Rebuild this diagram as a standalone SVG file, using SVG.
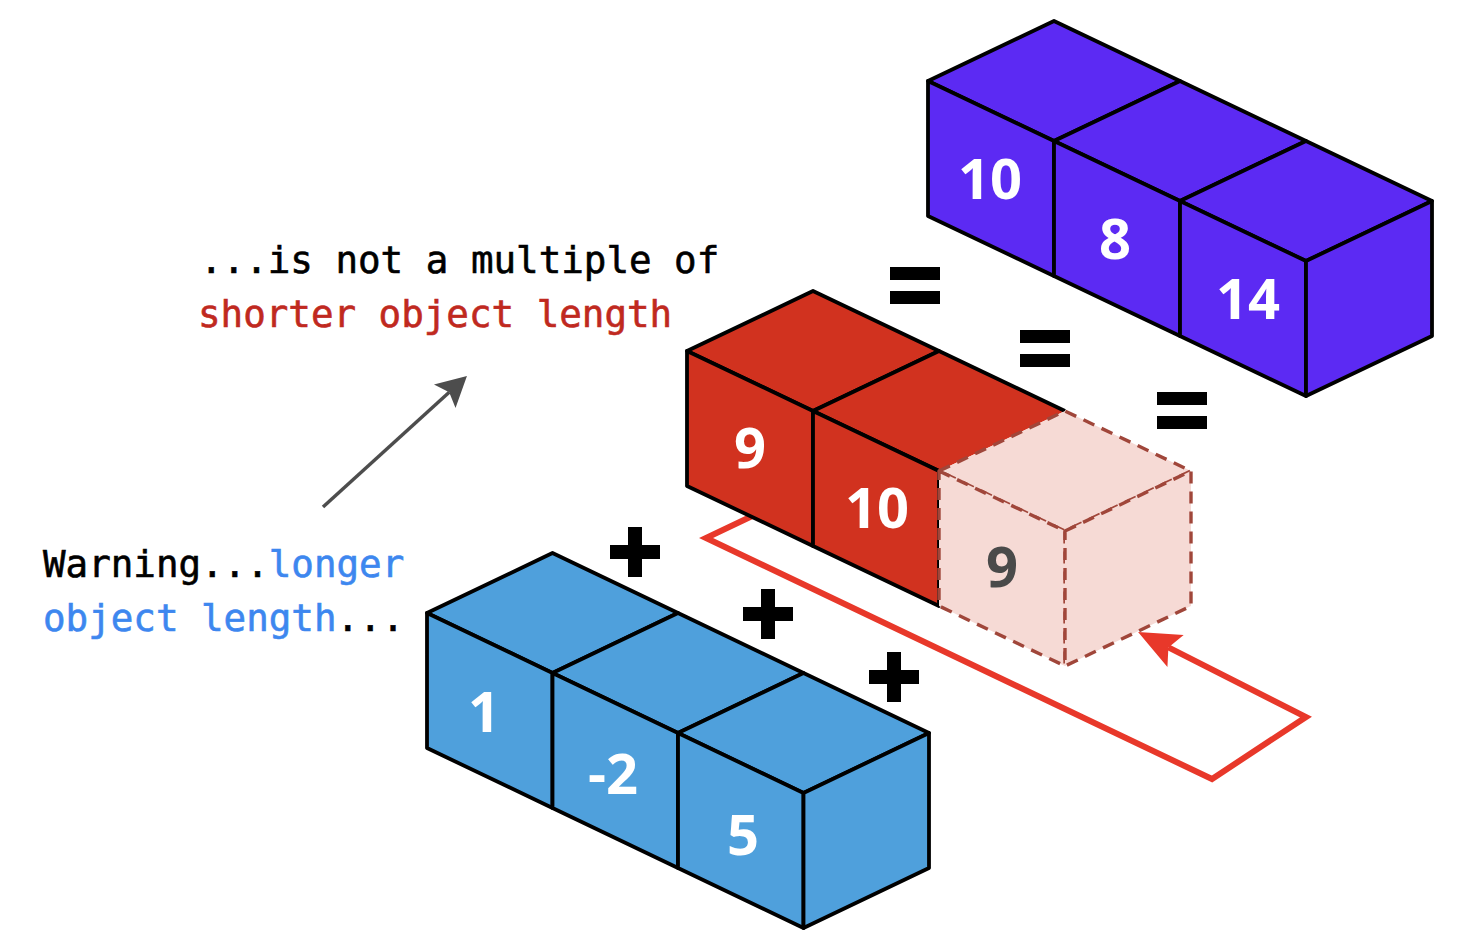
<svg xmlns="http://www.w3.org/2000/svg" width="1468" height="944" viewBox="0 0 1468 944">
<style>
.face{stroke:#000;stroke-width:3.8;stroke-linejoin:round}
.purple{fill:#5c2af3}
.red{fill:#d1321f}
.blue{fill:#4fa0dc}
.ghost{fill:#f6dad5;stroke:#a0463a;stroke-width:3.4;stroke-dasharray:12 8;stroke-linejoin:round}
.num{font-family:"Open Sans","Noto Sans",sans-serif;font-weight:700;font-size:56px;fill:#fff;text-anchor:middle}
.mono{font-family:"DejaVu Sans Mono","Liberation Mono",monospace;font-size:37.5px;stroke-width:0.6px}
.op{fill:#000}
</style>
<defs>
<marker id="redhead" markerUnits="userSpaceOnUse" viewBox="-44 -20 46 40" refX="-34" refY="0" markerWidth="46" markerHeight="40" orient="auto">
<path d="M0,0 L-42,-18 L-34,0 L-42,18 Z" fill="#e8382a"/>
</marker>
<marker id="grayhead" markerUnits="userSpaceOnUse" viewBox="-32 -18 34 36" refX="-24" refY="0" markerWidth="34" markerHeight="36" orient="auto">
<path d="M0,0 L-30,-16 L-24,0 L-30,16 Z" fill="#4d4d4d"/>
</marker>
</defs>
<rect width="1468" height="944" fill="#fff"/>

<g id="connectors">
<path id="recycle-loop" d="M790,498 L706,538 L1212,779 L1306,717 L1168.4,647.4" fill="none" stroke="#e8382a" stroke-width="6" stroke-linejoin="miter" marker-end="url(#redhead)"/>
<path id="warning-arrow" d="M323,507 L449.2,392.2" fill="none" stroke="#4d4d4d" stroke-width="3.5" marker-end="url(#grayhead)"/>
</g>

<g id="result-row">
<polygon class="face purple" points="928,81 1054,21 1180,81 1054,141"/>
<polygon class="face purple" points="928,81 1054,141 1054,276 928,216"/>
<polygon class="face purple" points="1054,141 1180,81 1306,141 1180,201"/>
<polygon class="face purple" points="1054,141 1180,201 1180,336 1054,276"/>
<polygon class="face purple" points="1180,201 1306,141 1432,201 1306,261"/>
<polygon class="face purple" points="1180,201 1306,261 1306,396 1180,336"/>
<polygon class="face purple" points="1306,261 1432,201 1432,336 1306,396"/>
<text class="num" x="990" y="199">10</text>
<text class="num" x="1115" y="259">8</text>
<text class="num" x="1248" y="319">14</text>
</g>

<g id="short-row">
<polygon class="face red" points="687,351 813,291 939,351 813,411"/>
<polygon class="face red" points="687,351 813,411 813,546 687,486"/>
<polygon class="red" points="813,411 939,351 1065,411 939,471"/>
<polyline points="1065,411 939,351 813,411 939,471" fill="none" stroke="#000" stroke-width="3.8" stroke-linejoin="round"/>
<polygon class="face red" points="813,411 939,471 939,606 813,546"/>
<text class="num" x="750" y="468">9</text>
<text class="num" x="877" y="528">10</text>
</g>

<g id="recycled-cube">
<polygon class="ghost" points="939,471 1065,411 1191,471 1065,531"/>
<polygon class="ghost" points="939,471 1065,531 1065,666 939,606"/>
<polygon class="ghost" points="1065,531 1191,471 1191,606 1065,666"/>
<text class="num" x="1002" y="587" style="fill:#4a4a4a">9</text>
</g>

<g id="long-row">
<polygon class="face blue" points="427,613 552.5,553 678,613 552.5,673"/>
<polygon class="face blue" points="427,613 552.5,673 552.5,808 427,748"/>
<polygon class="face blue" points="552.5,673 678,613 803.5,673 678,733"/>
<polygon class="face blue" points="552.5,673 678,733 678,868 552.5,808"/>
<polygon class="face blue" points="678,733 803.5,673 929,733 803.5,793"/>
<polygon class="face blue" points="678,733 803.5,793 803.5,928 678,868"/>
<polygon class="face blue" points="803.5,793 929,733 929,868 803.5,928"/>
<text class="num" x="484" y="732">1</text>
<text class="num" x="613" y="794">-2</text>
<text class="num" x="743" y="855">5</text>
</g>

<g id="operators">
<g id="plus1"><rect class="op" x="610" y="545" width="50" height="14"/><rect class="op" x="628" y="527" width="14" height="50"/></g>
<g id="plus2"><rect class="op" x="743" y="607" width="50" height="14"/><rect class="op" x="761" y="589" width="14" height="50"/></g>
<g id="plus3"><rect class="op" x="869" y="670" width="50" height="14"/><rect class="op" x="887" y="652" width="14" height="50"/></g>
<g id="eq1"><rect class="op" x="890" y="267" width="50" height="13"/><rect class="op" x="890" y="291" width="50" height="13"/></g>
<g id="eq2"><rect class="op" x="1020" y="330" width="50" height="13"/><rect class="op" x="1020" y="354" width="50" height="13"/></g>
<g id="eq3"><rect class="op" x="1157" y="392" width="50" height="13"/><rect class="op" x="1157" y="416" width="50" height="13"/></g>
</g>

<g id="label-top">
<text class="mono" x="200" y="273" fill="#000" stroke="#000">...is not a multiple of</text>
<text class="mono" x="198" y="327" fill="#c0291f" stroke="#c0291f">shorter object length</text>
</g>
<g id="label-bottom">
<text class="mono" x="43" y="577"><tspan fill="#000" stroke="#000">Warning...</tspan><tspan fill="#3d87ef" stroke="#3d87ef">longer</tspan></text>
<text class="mono" x="43" y="631"><tspan fill="#3d87ef" stroke="#3d87ef">object length</tspan><tspan fill="#000" stroke="#000">...</tspan></text>
</g>
</svg>
